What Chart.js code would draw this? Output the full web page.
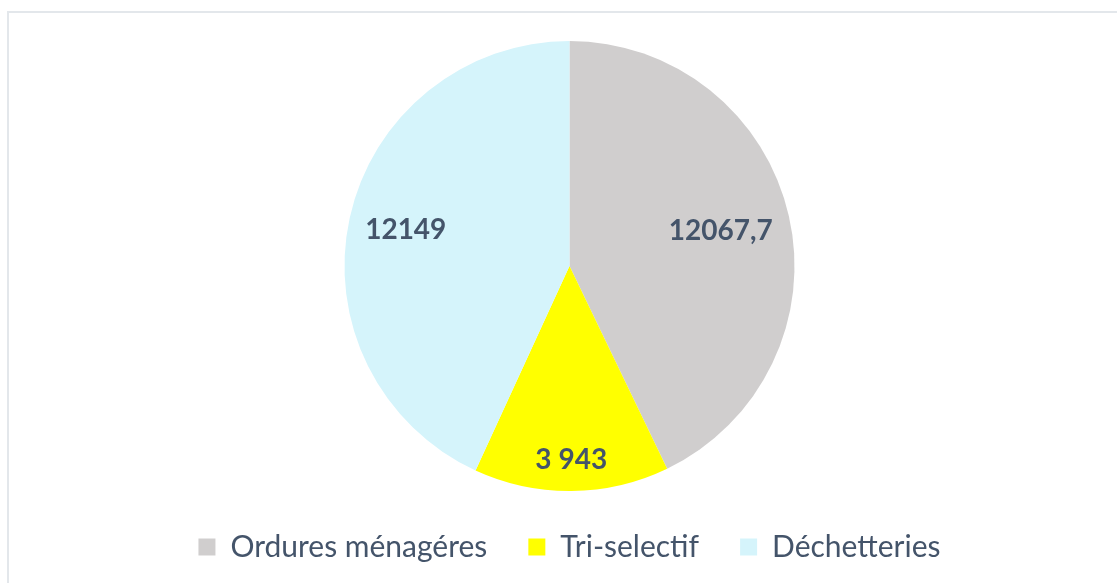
<!DOCTYPE html>
<html>
<head>
<meta charset="utf-8">
<script src="https://cdn.jsdelivr.net/npm/chart.js@4"></script>
<style>
  html, body { margin: 0; padding: 0; background: #fff; }
  .frame { position: absolute; left: 7px; top: 11px; width: 1200px; height: 700px; border: 2px solid #E3E7EB; }
  .wrap { position: absolute; left: 0; top: 0; width: 1117px; height: 583px; }
</style>
</head>
<body>
<div class="frame"></div>
<div class="wrap"><canvas id="canvas"></canvas></div>
<script>
const labels = ['Ordures ménagéres', 'Tri-selectif', 'Déchetteries']
const amounts = [12067.7, 3943, 12149]
const valueLabels = ['12067,7', '3 943', '12149']
const colors = ['#D0CECE', '#FFFF00', '#D5F4FB']
// how far out each value label sits (fraction of the radius)
const labelRadius = [0.69, 0.86, 0.745]

const valueLabelPlugin = {
  id: 'valueLabels',
  afterDatasetsDraw(chart) {
    const ctx = chart.ctx
    const meta = chart.getDatasetMeta(0)
    ctx.save()
    ctx.font = 'bold 28px Lato'
    ctx.fillStyle = '#44546A'
    ctx.textAlign = 'center'
    ctx.textBaseline = 'middle'
    meta.data.forEach((arc, i) => {
      const p = arc.getProps(['x', 'y', 'startAngle', 'endAngle', 'outerRadius'], true)
      const mid = (p.startAngle + p.endAngle) / 2
      const r = p.outerRadius * labelRadius[i]
      ctx.fillText(valueLabels[i], p.x + Math.cos(mid) * r, p.y + Math.sin(mid) * r)
    })
    ctx.restore()
  }
}

const ctx = document.querySelector('#canvas').getContext('2d')

const config = {
  type: 'pie',
  data: {
    labels: labels,
    datasets: [{
      data: amounts,
      backgroundColor: colors,
      borderWidth: 0
    }]
  },
  options: {
    responsive: true,
    maintainAspectRatio: false,
    animation: false,
    layout: {
      padding: { top: 41, left: 22, right: 0, bottom: 11 }
    },
    plugins: {
      legend: {
        position: 'bottom',
        labels: {
          boxWidth: 17,
          boxHeight: 17,
          padding: 41,
          color: '#44546A',
          font: { family: 'Lato', size: 30 }
        }
      },
      tooltip: { enabled: false }
    }
  },
  plugins: [valueLabelPlugin]
}

const myChart = new Chart(ctx, config)
</script>
</body>
</html>
